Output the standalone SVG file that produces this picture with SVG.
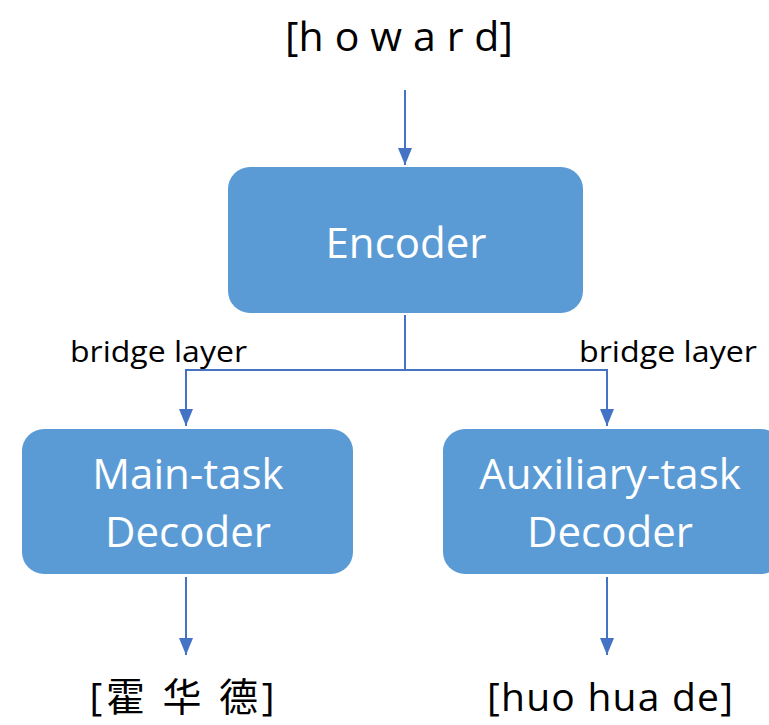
<svg xmlns="http://www.w3.org/2000/svg" width="769" height="725" viewBox="0 0 769 725">
  <defs>
    <marker id="head" viewBox="0 0 17 14" refX="17" refY="7" markerWidth="17" markerHeight="14" markerUnits="userSpaceOnUse" orient="auto">
      <path d="M0 0 L17 7 L0 14 Z" fill="#4472C4"/>
    </marker>
    <style>
      .box { fill: #5B9BD5; }
      .label { font-family: "Open Sans", "Liberation Sans", sans-serif; fill: #FFFFFF; font-size: 42px; text-anchor: middle; }
      .io { font-family: "Open Sans", "Liberation Sans", "Noto Sans CJK SC", sans-serif; fill: #000000; font-size: 41px; text-anchor: middle; }
      .out { font-size: 39px; }
      .note { font-family: "Open Sans", "Liberation Sans", sans-serif; fill: #000000; font-size: 29px; }
      .wire { fill: none; stroke: #4472C4; stroke-width: 2; }
    </style>
  </defs>

  <rect width="769" height="725" fill="#FFFFFF"/>

  <!-- connectors -->
  <g id="connectors">
    <path class="wire" d="M405 90 V165" marker-end="url(#head)"/>
    <path class="wire" d="M405 315 V370 H186 V426" marker-end="url(#head)"/>
    <path class="wire" d="M405 370 H607 V426" marker-end="url(#head)"/>
    <path class="wire" d="M186 577 V655" marker-end="url(#head)"/>
    <path class="wire" d="M607 577 V655" marker-end="url(#head)"/>
  </g>

  <g id="input">
    <text class="io" x="399" y="51" textLength="228" lengthAdjust="spacing">[h o w a r d]</text>
  </g>

  <g id="encoder">
    <rect class="box" x="228" y="167" width="355" height="146" rx="22" ry="22"/>
    <text class="label" x="406" y="258">Encoder</text>
  </g>

  <g id="bridge-labels">
    <text class="note" x="70" y="362" textLength="177" lengthAdjust="spacingAndGlyphs">bridge layer</text>
    <text class="note" x="579" y="362" textLength="178" lengthAdjust="spacingAndGlyphs">bridge layer</text>
  </g>

  <g id="main-decoder">
    <rect class="box" x="22" y="429" width="331" height="145" rx="22" ry="22"/>
    <text class="label" x="188" y="489">Main-task</text>
    <text class="label" x="188" y="547">Decoder</text>
  </g>

  <g id="aux-decoder">
    <rect class="box" x="443" y="429" width="340" height="145" rx="22" ry="22"/>
    <text class="label" x="610" y="489">Auxiliary-task</text>
    <text class="label" x="610" y="547">Decoder</text>
  </g>

  <g id="main-output">
    <text class="io out" x="182" y="711" textLength="185" lengthAdjust="spacing">[霍 华 德]</text>
  </g>

  <g id="aux-output">
    <text class="io out" x="610" y="711" textLength="246" lengthAdjust="spacing">[huo hua de]</text>
  </g>
</svg>
